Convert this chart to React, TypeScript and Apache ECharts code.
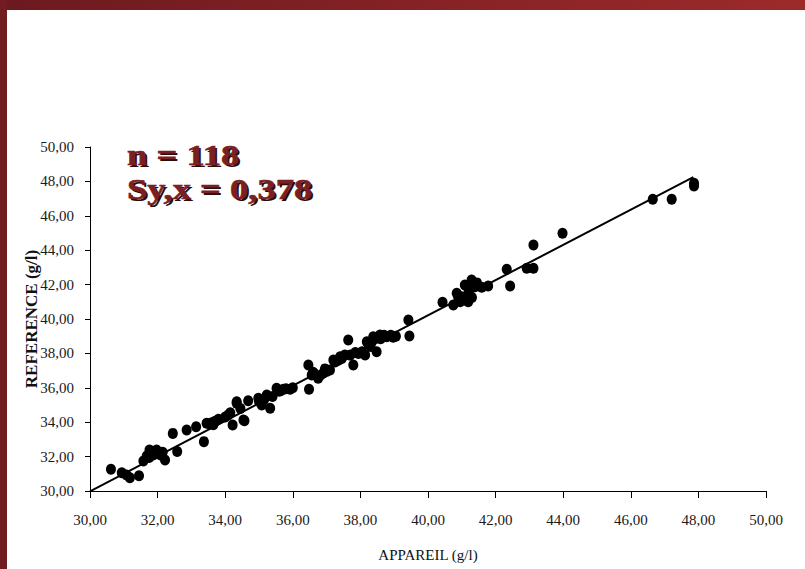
import React, { useEffect, useRef } from "react";
import * as echarts from "echarts";

const xTicks = [30, 32, 34, 36, 38, 40, 42, 44, 46, 48, 50];
const yTicks = [30, 32, 34, 36, 38, 40, 42, 44, 46, 48, 50];

const appareil = [
  30.62, 30.94, 31.08, 31.18, 31.45, 31.58, 31.68, 31.76, 31.87, 31.97,
  32.09, 32.22, 32.45, 32.58, 32.86, 33.14, 33.37, 33.45, 33.6, 33.8,
  34.09, 34.22, 34.34, 34.57, 34.34, 34.54, 34.68, 34.98, 35.08, 35.23,
  35.33, 35.52, 35.72, 35.92, 36.46, 36.48, 36.56, 36.75, 36.9, 37.1,
  37.2, 37.4, 37.54, 37.64, 37.79, 37.94, 38.14, 38.23, 38.48, 38.48,
  38.19, 38.38, 38.58, 38.78, 38.97, 39.42, 39.45, 40.43, 40.75, 40.85,
  40.95, 41.09, 41.19, 41.09, 41.29, 41.39, 41.59, 41.78, 42.33, 42.43,
  42.92, 43.12, 43.12, 43.98, 46.65, 47.21, 47.87, 47.87,
  33.55, 33.7, 34.0, 34.15, 35.15, 35.4, 35.6, 35.8, 36.0, 36.6,
  36.8, 37.0, 37.25, 37.45, 37.7, 38.05, 38.3, 38.35, 38.7, 39.05,
  41.0, 41.2, 41.45, 32.0, 31.75, 32.15, 34.45, 35.0, 35.65, 36.65,
  37.35, 38.6, 38.9, 41.3, 40.9, 36.95, 37.85, 33.65
];
const reference = [
  31.26, 31.06, 30.93, 30.77, 30.89, 31.74, 32.03, 32.38, 32.09, 32.38,
  32.09, 31.8, 33.35, 32.29, 33.55, 33.74, 32.87, 33.94, 33.97, 34.17,
  34.42, 33.84, 35.1, 34.09, 35.19, 34.13, 35.25, 35.39, 35.0, 35.58,
  34.81, 35.97, 35.91, 35.91, 37.33, 35.91, 36.74, 36.55, 36.84, 37.03,
  37.62, 37.81, 37.91, 38.78, 37.33, 38.0, 37.91, 38.59, 38.88, 38.1,
  38.68, 38.97, 39.07, 38.97, 38.94, 39.94, 39.01, 40.97, 40.81, 41.49,
  41.01, 41.1, 41.01, 41.98, 42.27, 41.88, 41.84, 41.92, 42.89, 41.92,
  42.95, 42.95, 44.3, 44.98, 46.96, 46.96, 47.89, 47.73,
  33.9, 34.05, 34.3, 34.55, 35.3, 35.5, 35.8, 35.95, 36.0, 36.9,
  36.7, 36.95, 37.5, 37.7, 37.9, 38.1, 38.4, 38.7, 39.05, 39.0,
  41.3, 41.7, 42.1, 32.2, 31.95, 32.25, 34.8, 35.2, 35.85, 36.8,
  37.6, 38.85, 39.05, 41.25, 41.2, 37.1, 38.05, 33.85
];

const fitX = [30.0, 47.85];
const fitY = [29.98, 48.25];

const statN = "n = 118";
const statS = "Sy,x = 0,378";

const fmt = (v: number) => v.toFixed(2).replace(".", ",");

export default function App() {
  const ref = useRef<HTMLDivElement>(null);
  useEffect(() => {
    if (!ref.current) return;
    const chart = echarts.init(ref.current, undefined, { renderer: "svg" });
    const serif = "'Liberation Serif', 'Times New Roman', serif";
    const statStyle = {
      font: `bold 29px ${serif}`,
      verticalAlign: "middle",
      align: "left",
    };
    const statText = (text: string, y: number) => ({
      type: "group",
      children: [
        {
          type: "text",
          x: 129,
          y: y + 2,
          scaleX: 1.26,
          silent: true,
          style: { ...statStyle, text, fill: "#2a0c0c" },
        },
        {
          type: "text",
          x: 127,
          y,
          scaleX: 1.26,
          style: { ...statStyle, text, fill: "#7b2022", stroke: "#7b2022", lineWidth: 0.6 },
        },
      ],
      z: 100,
    });
    chart.setOption({
      animation: false,
      backgroundColor: "#ffffff",
      grid: { left: 90, right: 39, top: 147, bottom: 78 },
      xAxis: {
        type: "value",
        min: 30,
        max: 50,
        interval: 2,
        name: "APPAREIL (g/l)",
        nameLocation: "middle",
        nameGap: 56,
        nameMoveOverlap: false,
        nameTextStyle: { fontFamily: serif, fontSize: 15, color: "#111" },
        axisLine: { show: true, lineStyle: { color: "#000", width: 1 } },
        axisTick: { show: true, length: 7, lineStyle: { color: "#000" } },
        axisLabel: {
          fontFamily: serif,
          fontSize: 15,
          color: "#1a1a1a",
          margin: 21,
          formatter: (v: number) => (xTicks.includes(v) ? fmt(v) : ""),
        },
        splitLine: { show: false },
      },
      yAxis: {
        type: "value",
        min: 30,
        max: 50,
        interval: 2,
        name: "REFERENCE (g/l)",
        nameLocation: "middle",
        nameRotate: 90,
        nameGap: 50,
        nameMoveOverlap: false,
        nameTextStyle: { fontFamily: serif, fontSize: 17, fontWeight: "bold", color: "#111" },
        axisLine: { show: true, lineStyle: { color: "#000", width: 1 } },
        axisTick: { show: true, length: 5, lineStyle: { color: "#000" } },
        axisLabel: {
          fontFamily: serif,
          fontSize: 15,
          color: "#1a1a1a",
          margin: 16,
          formatter: (v: number) => (yTicks.includes(v) ? fmt(v) : ""),
        },
        splitLine: { show: false },
      },
      graphic: [
        {
          type: "rect",
          left: 0,
          top: 0,
          shape: { width: 805, height: 10 },
          style: {
            fill: new echarts.graphic.LinearGradient(0, 0, 1, 0, [
              { offset: 0, color: "#6c1a1f" },
              { offset: 1, color: "#9c2a2b" },
            ]),
          },
          z: 100,
        },
        {
          type: "rect",
          left: 0,
          top: 0,
          shape: { width: 7, height: 569 },
          style: { fill: "#711c21" },
          z: 100,
        },
        statText(statN, 155),
        statText(statS, 189),
      ],
      series: [
        {
          type: "line",
          data: fitX.map((x, i) => [x, fitY[i]]),
          symbol: "none",
          lineStyle: { color: "#000", width: 2 },
          z: 2,
        },
        {
          type: "scatter",
          data: appareil.map((x, i) => [x, reference[i]]),
          symbol: "circle",
          symbolSize: [10, 11],
          itemStyle: { color: "#000", opacity: 1 },
          z: 3,
        },
      ],
    });
    return () => chart.dispose();
  }, []);
  return (
    <div
      ref={ref}
      style={{ position: "fixed", left: 0, top: 0, width: 805, height: 569 }}
    />
  );
}
